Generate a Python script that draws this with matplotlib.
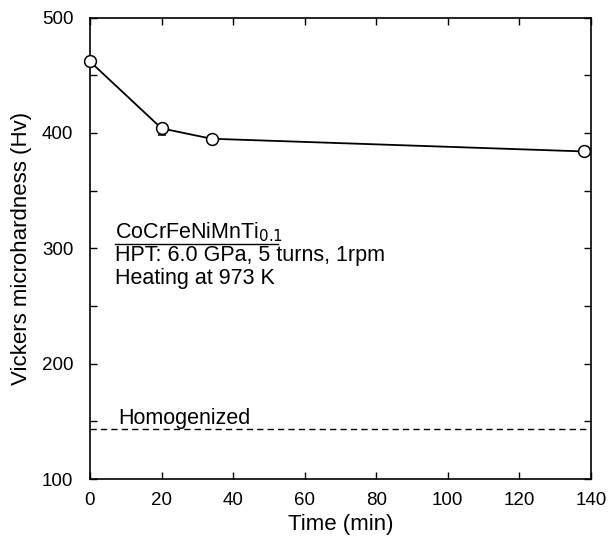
import numpy as np
import matplotlib
matplotlib.use("Agg")
import matplotlib.pyplot as plt

plt.rcParams['font.family'] = ['Liberation Sans', 'DejaVu Sans']

tid = [0, 20, 34, 138]
hardhet = [462, 404, 395, 384]
feil_ned = [0, 6, 0, 0]
feil_opp = [0, 0, 0, 0]
homogenisert = 143

fig = plt.figure(figsize=(6.1, 5.46), dpi=100)
ax = fig.add_axes([0.1475, 0.1227, 0.821, 0.845])

ax.errorbar(tid, hardhet, yerr=[feil_ned, feil_opp], color="black", linewidth=1.3,
            marker="o", markersize=8.5, markerfacecolor="white", markeredgecolor="black",
            markeredgewidth=1.1, capsize=3, elinewidth=1, zorder=3, clip_on=False)
ax.axhline(homogenisert, color="black", linestyle=(0, (4.5, 3)), linewidth=1)
ax.text(7.8, homogenisert + 5, "Homogenized", fontsize=15.5, va="baseline")

# tekstboks med legering og prosess
ax.text(7.0, 309, r"CoCrFeNiMnTi$_{0.1}$", fontsize=15.5, va="baseline")
ax.plot([7.0, 52.5], [304, 304], color="black", linewidth=1)
ax.text(7.0, 289, "HPT: 6.0 GPa, 5 turns, 1rpm", fontsize=15.5, va="baseline")
ax.text(7.0, 269, "Heating at 973 K", fontsize=15.5, va="baseline")

ax.set_xlim(0, 140)
ax.set_ylim(100, 500)
ax.set_xticks(np.arange(0, 141, 20))
ax.set_yticks(np.arange(100, 501, 100))
ax.set_yticks(np.arange(150, 500, 100), minor=True)
ax.tick_params(which="both", direction="in", labelsize=13.5, length=5, width=1,
               right=True, top=True)
ax.tick_params(axis="x", pad=9)
ax.tick_params(axis="y", pad=12)
for s in ax.spines.values():
    s.set_linewidth(1.2)
ax.set_xlabel("Time (min)", fontsize=16)
ax.set_ylabel("Vickers microhardness (Hv)", fontsize=16)
ax.xaxis.set_label_coords(0.5, -0.075)
ax.yaxis.set_label_coords(-0.115, 0.5)

fig.savefig("out.png", dpi=100)
